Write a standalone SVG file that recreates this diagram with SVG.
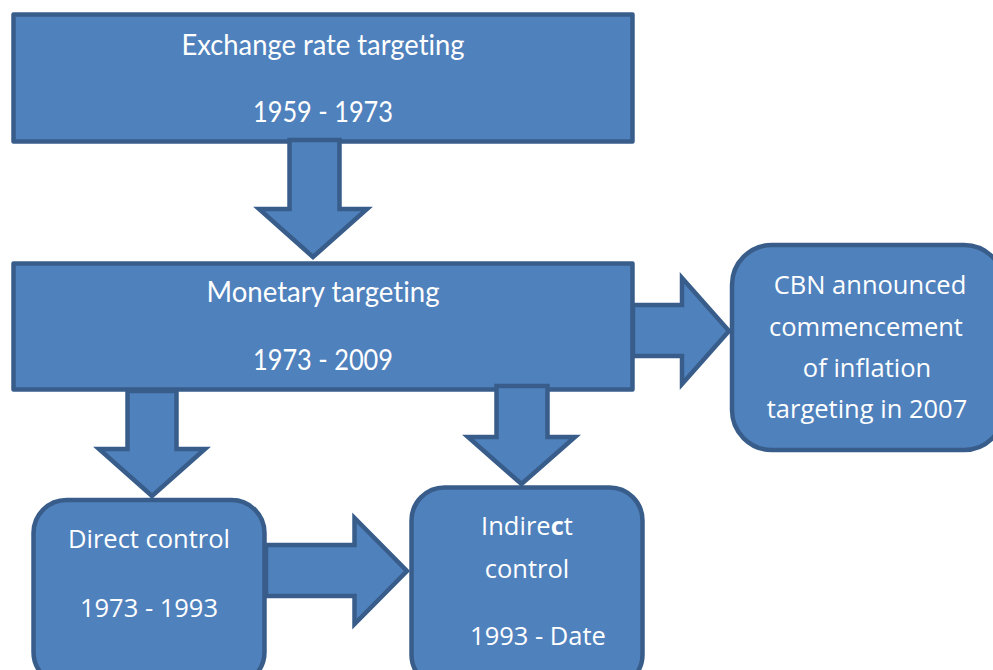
<svg xmlns="http://www.w3.org/2000/svg" width="993" height="670" viewBox="0 0 993 670">
<style>
.box{fill:#4f81bd;stroke:#385d8a;stroke-width:4.5;stroke-linejoin:round}
.arr{fill:#4f81bd;stroke:#385d8a;stroke-width:4.5;stroke-linejoin:miter}
.t1{font-family:Lato,"Liberation Sans",sans-serif;font-size:28px;fill:#ffffff;text-anchor:middle;font-variant-ligatures:none}
.t2{font-family:"Open Sans","Liberation Sans",sans-serif;font-size:25.5px;fill:#ffffff;text-anchor:middle}
</style>
<rect width="993" height="670" fill="#ffffff"/>
<g id="exchange">
<rect class="box" x="13.5" y="14.5" width="619" height="127"/>
<text class="t1" x="323" y="55" textLength="283" lengthAdjust="spacingAndGlyphs">Exchange rate targeting</text>
<text class="t1" x="323" y="122" textLength="140" lengthAdjust="spacingAndGlyphs">1959 - 1973</text>
</g>
<g id="monetary">
<rect class="box" x="13.5" y="263.5" width="619" height="126"/>
<text class="t1" x="323" y="302" textLength="233" lengthAdjust="spacingAndGlyphs">Monetary targeting</text>
<text class="t1" x="323" y="370" textLength="140" lengthAdjust="spacingAndGlyphs">1973 - 2009</text>
</g>
<g id="cbn">
<rect class="box" x="732" y="245" width="272" height="205" rx="40"/>
<text class="t2" x="870" y="294">CBN announced</text>
<text class="t2" x="866" y="336">commencement</text>
<text class="t2" x="867" y="377">of inflation</text>
<text class="t2" x="867" y="418">targeting in 2007</text>
</g>
<g id="direct">
<rect class="box" x="33.5" y="500" width="231" height="185" rx="33"/>
<text class="t2" x="149" y="548">Direct control</text>
<text class="t2" x="149" y="617">1973 - 1993</text>
</g>
<g id="indirect">
<rect class="box" x="411.5" y="487.5" width="231" height="200" rx="33"/>
<text class="t2" x="527" y="535">Indire<tspan font-weight="bold">c</tspan>t</text>
<text class="t2" x="527" y="578">control</text>
<text class="t2" x="538" y="645">1993 - Date</text>
</g>
<g id="connectors">
<polygon class="arr" points="289.5,140 339.5,140 339.5,209 367,209 313,257 259,209 289.5,209"/>
<polygon class="arr" points="633,305 682,305 682,278 729,331 682,384 682,356 633,356"/>
<polygon class="arr" points="127.5,391 176.5,391 176.5,449 205,449 152,496 99,449 127.5,449"/>
<polygon class="arr" points="496.5,386 547.5,386 547.5,437 575,437 521.5,484 468,437 496.5,437"/>
<polygon class="arr" points="266,545 354.5,545 354.5,518 407,571 354.5,624 354.5,596 266,596"/>
</g>
</svg>
